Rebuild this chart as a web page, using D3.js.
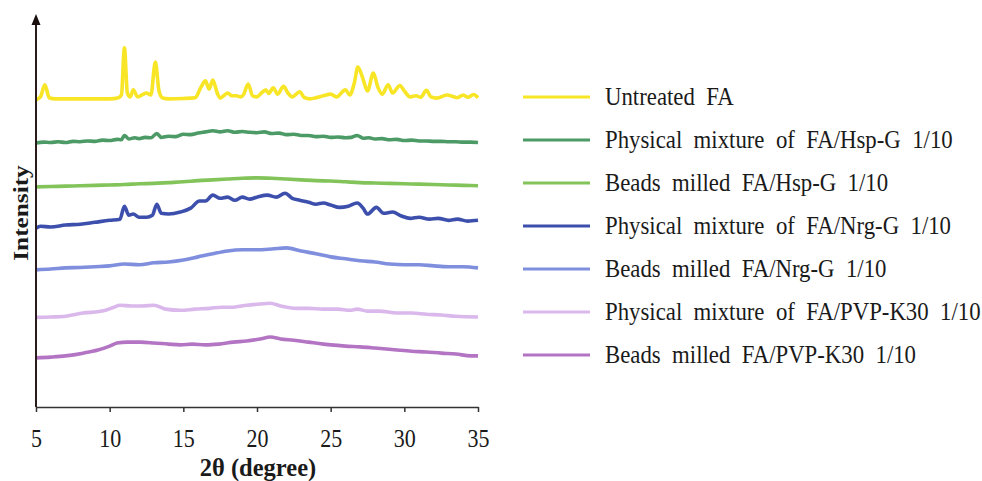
<!DOCTYPE html>
<html>
<head>
<meta charset="utf-8">
<title>XRD patterns of FA samples</title>
<style>
  body { margin: 0; background: #fff; }
  text { font-family: "Liberation Serif", "Times New Roman", serif; fill: #1a1a1a; }
  .legend text { white-space: pre; }
</style>
</head>
<body>
<div id="chart"></div>
<script src="https://d3js.org/d3.v7.min.js"></script>
<script>
// series labels, colours and vertical offsets (stacked patterns, a.u.)
const names = [
  "Untreated  FA",
  "Physical  mixture  of  FA/Hsp-G  1/10",
  "Beads  milled  FA/Hsp-G  1/10",
  "Physical  mixture  of  FA/Nrg-G  1/10",
  "Beads  milled  FA/Nrg-G  1/10",
  "Physical  mixture  of  FA/PVP-K30  1/10",
  "Beads  milled  FA/PVP-K30  1/10"
];
const colors = ["#f7e526", "#4c9a66", "#82c35a", "#3d4fac", "#7f8fde", "#dab8ec", "#b375c3"];
const offsets = [78.4, 67.2, 56.0, 45.5, 34.9, 22.6, 12.2];

// [2theta, intensity above offset]
const untreatedFA = [
  [5.0, -0.2], [5.3, 0.5], [5.6, 3.6], [5.9, 0.3], [6.3, 0], [8, 0], [10, 0], [10.6, 0.3],
  [10.8, 1.0], [11.0, 13.0], [11.2, 1.5], [11.4, 0.5], [11.6, 2.3], [11.9, 0.5], [12.2, 1.0],
  [12.5, 1.5], [12.8, 1.0], [13.1, 9.4], [13.35, 2.0], [13.6, 0.2], [14, 0], [15, 0.1],
  [15.8, 0.3], [16.2, 3.0], [16.5, 4.6], [16.75, 2.5], [17.0, 4.8], [17.3, 1.5], [17.5, 0.2],
  [17.8, 1.0], [18.0, 1.5], [18.3, 0.8], [18.6, 0.8], [18.9, 0.5], [19.1, 1.2], [19.4, 3.8],
  [19.7, 0.8], [20.0, 0.5], [20.3, 1.5], [20.6, 2.3], [20.8, 1.4], [21.1, 2.8], [21.4, 1.2],
  [21.8, 3.2], [22.1, 1.5], [22.4, 0.5], [22.9, 1.8], [23.2, 0.4], [23.6, 0.0], [24.0, 0.3],
  [24.5, 0.8], [25.0, 1.2], [25.4, 0.5], [26.0, 2.3], [26.3, 1.0], [26.6, 4.0], [26.85, 8.1],
  [27.2, 5.0], [27.5, 2.0], [27.9, 6.6], [28.2, 3.0], [28.5, 1.2], [28.9, 3.6], [29.2, 1.5],
  [29.7, 3.4], [30.0, 2.0], [30.4, 0.5], [30.8, 0.8], [31.1, 0.4], [31.5, 2.2], [31.8, 0.5],
  [32.2, 0.2], [32.9, 1.0], [33.3, 0.6], [33.6, 0.3], [34.0, 1.0], [34.3, 0.4], [34.7, 1.1], [35.0, 0.3]
];
const pmHspG = [
  [5, 0], [5.5, 0.2], [6, 0.1], [6.5, 0.3], [7, 0.1], [7.5, 0.4], [8, 0.3], [8.5, 0.5], [9, 0.4],
  [9.5, 0.7], [10, 0.6], [10.5, 0.9], [10.8, 0.8], [11.0, 1.9], [11.3, 1.0], [11.7, 1.3], [12, 1.1],
  [12.4, 1.4], [12.8, 1.3], [13.2, 2.4], [13.5, 1.4], [14, 1.7], [14.5, 1.6], [15, 2.2], [15.5, 2.1],
  [16, 2.5], [16.5, 2.8], [17.0, 3.1], [17.5, 2.8], [18.0, 3.1], [18.5, 2.7], [19.0, 2.9], [19.5, 2.7],
  [20.0, 2.6], [20.5, 2.8], [21, 2.4], [21.5, 2.5], [22, 2.1], [22.5, 2.2], [23, 1.9], [23.5, 1.9],
  [24, 1.6], [24.5, 1.7], [25, 1.4], [25.5, 1.5], [26, 1.3], [26.4, 1.4], [26.8, 1.9], [27.2, 1.2],
  [27.6, 1.3], [28, 1.0], [28.5, 1.1], [29, 0.8], [29.5, 0.9], [30, 0.6], [30.5, 0.7], [31, 0.5],
  [31.5, 0.5], [32, 0.4], [32.5, 0.4], [33, 0.3], [33.5, 0.3], [34, 0.2], [34.5, 0.2], [35, 0.1]
];
const bmHspG = [
  [5, 0], [6, 0.1], [7, 0.2], [8, 0.3], [9, 0.4], [10, 0.5], [11, 0.6], [12, 0.8], [13, 0.9],
  [14, 1.1], [15, 1.3], [16, 1.6], [17, 1.8], [18, 2.0], [19, 2.2], [20, 2.3], [21, 2.2], [22, 2.0],
  [23, 1.8], [24, 1.6], [25, 1.5], [26, 1.3], [27, 1.1], [28, 1.0], [29, 0.9], [30, 0.8], [31, 0.7],
  [32, 0.6], [33, 0.5], [34, 0.4], [35, 0.3]
];
const pmNrgG = [
  [5, 0], [5.3, 0.5], [6, 0.3], [7, 0.8], [8, 1.0], [9, 1.5], [10, 2.0], [10.7, 2.3], [11.0, 5.6],
  [11.3, 3.3], [11.6, 3.6], [12.0, 2.8], [12.5, 2.8], [12.9, 3.3], [13.2, 6.1], [13.5, 3.8], [14, 3.6],
  [14.8, 4.1], [15.5, 5.1], [16.1, 6.9], [16.5, 6.9], [17, 8.4], [17.5, 7.6], [18, 7.9], [18.5, 7.1],
  [19, 7.9], [19.5, 7.4], [20, 7.9], [20.7, 8.4], [21.3, 7.9], [21.9, 8.9], [22.4, 7.6], [22.9, 7.1],
  [23.5, 6.6], [24, 6.1], [24.5, 6.4], [25, 5.9], [25.6, 5.3], [26.2, 5.6], [26.8, 6.4], [27.2, 5.1],
  [27.5, 3.6], [28.1, 5.3], [28.6, 3.8], [29.2, 4.1], [29.8, 3.1], [30.4, 2.5], [31, 2.8], [31.7, 2.3],
  [32.3, 2.5], [33, 2.0], [33.6, 2.3], [34.3, 1.8], [35, 2.0]
];
const bmNrgG = [
  [5, 0], [6, 0.2], [7, 0.5], [8, 0.6], [9, 0.8], [10, 1.0], [11, 1.5], [12, 1.3], [13, 1.8],
  [14, 2.0], [15, 2.5], [16, 3.3], [17, 4.1], [18, 4.8], [19, 5.1], [20, 5.1], [21, 5.3], [22, 5.6],
  [23, 4.8], [24, 4.1], [25, 3.3], [26, 2.8], [27, 2.3], [28, 2.0], [29, 1.5], [30, 1.3], [31, 1.3],
  [32, 1.0], [33, 0.8], [34, 0.8], [35, 0.5]
];
const pmPVP = [
  [5, 0.2], [6, 0.3], [7, 0.5], [8.2, 1.3], [9.5, 1.8], [10.3, 2.8], [10.7, 3.3], [11.5, 3.1],
  [12.2, 3.1], [13.0, 3.3], [13.8, 2.3], [14.8, 2.0], [15.8, 2.3], [16.8, 2.5], [17.6, 2.8],
  [18.4, 2.8], [19.3, 3.3], [20.2, 3.6], [20.9, 3.8], [21.6, 3.1], [22.7, 2.5], [23.5, 2.5],
  [24.5, 2.3], [25.5, 2.3], [26.3, 2.0], [26.8, 2.3], [27.5, 1.8], [28.3, 1.8], [29.5, 1.3],
  [30.5, 1.3], [31.5, 1.0], [32.5, 0.8], [33.5, 0.5], [35, 0.3]
];
const bmPVP = [
  [5, 0.3], [6, 0.5], [7, 0.8], [8.2, 1.5], [9.2, 2.3], [10.0, 3.3], [10.5, 4.1], [11.2, 4.3],
  [12.1, 4.3], [13.0, 4.1], [14.0, 3.8], [14.8, 3.6], [15.6, 3.8], [16.5, 3.6], [17.4, 3.8],
  [18.4, 4.3], [19.3, 4.6], [20.2, 5.1], [20.9, 5.6], [21.6, 5.1], [22.5, 4.8], [23.5, 4.3],
  [24.5, 3.8], [25, 3.6], [26, 3.3], [27, 3.1], [28, 2.8], [29.5, 2.3], [30.5, 2.0], [31.5, 1.8],
  [32.5, 1.5], [33.5, 1.3], [34.5, 0.8], [35, 0.8]
];
const seriesValues = [untreatedFA, pmHspG, bmHspG, pmNrgG, bmNrgG, pmPVP, bmPVP];
const xTicks = [5, 10, 15, 20, 25, 30, 35];

const width = 982, height = 481;
const svg = d3.select("#chart").append("svg")
  .attr("width", width)
  .attr("height", height);

const x = d3.scaleLinear().domain([5, 35]).range([36, 478]);
const y = d3.scaleLinear().domain([0, 100]).range([407, 14]);

// patterns
const line = d3.line()
  .x(d => x(d[0]))
  .curve(d3.curveMonotoneX);

seriesValues.forEach((vals, i) => {
  svg.append("path")
    .datum(vals)
    .attr("fill", "none")
    .attr("stroke", colors[i])
    .attr("stroke-width", 3.6)
    .attr("stroke-linejoin", "round")
    .attr("d", line.y(d => y(offsets[i] + d[1])));
});

// x axis
const xAxis = svg.append("g")
  .attr("transform", `translate(0,${y(0)})`)
  .call(d3.axisBottom(x).tickValues(xTicks).tickSize(5).tickSizeOuter(0));
xAxis.select(".domain").attr("stroke", "#333").attr("stroke-width", 1.5);
xAxis.selectAll(".tick line").attr("stroke", "#333").attr("stroke-width", 1.5);
xAxis.selectAll(".tick text")
  .attr("y", 0).attr("dy", null)
  .attr("transform", "translate(0,40) scale(1,1.1)")
  .attr("font-family", "Liberation Serif, serif")
  .attr("font-size", 22)
  .attr("fill", "#1a1a1a");

// y axis with arrow head, no ticks
svg.append("line")
  .attr("x1", x(5)).attr("x2", x(5))
  .attr("y1", y(0)).attr("y2", y(98))
  .attr("stroke", "#2a1c1c")
  .attr("stroke-width", 2);
svg.append("path")
  .attr("d", `M${x(5)},${y(100)} l-4.5,11 l9,0 z`)
  .attr("fill", "#1a1010");

// axis titles
svg.append("text")
  .attr("x", (x(5) + x(35)) / 2 + 1)
  .attr("y", 476)
  .attr("text-anchor", "middle")
  .attr("font-size", 24.5)
  .attr("font-weight", "bold")
  .text("2θ (degree)");

svg.append("text")
  .attr("transform", "translate(28,213) rotate(-90) scale(1.15,1)")
  .attr("text-anchor", "middle")
  .attr("font-size", 22)
  .attr("font-weight", "bold")
  .text("Intensity");

// legend
const legend = svg.append("g").attr("class", "legend");
names.forEach((name, i) => {
  const cy = 97 + i * 43;
  legend.append("line")
    .attr("x1", 523).attr("x2", 590)
    .attr("y1", cy).attr("y2", cy)
    .attr("stroke", colors[i])
    .attr("stroke-width", 3);
  legend.append("text")
    .attr("transform", `translate(605,${cy + 7.5}) scale(1,1.1)`)
    .attr("font-size", 22.8)
    .text(name);
});
</script>
</body>
</html>
